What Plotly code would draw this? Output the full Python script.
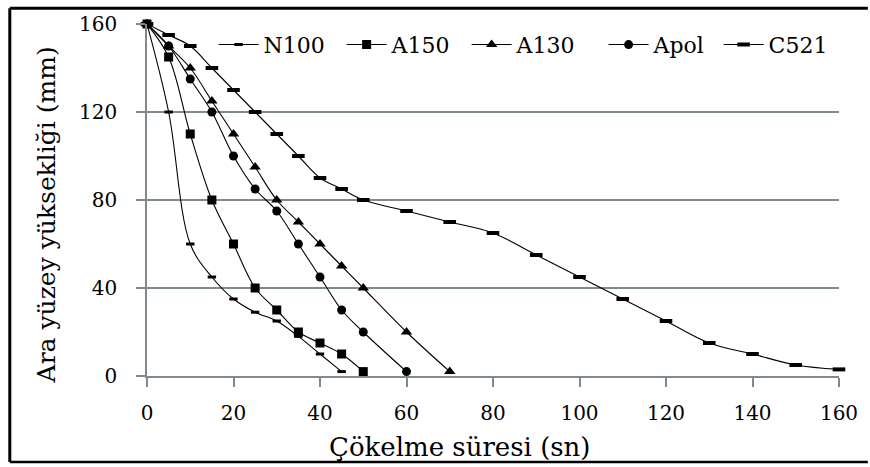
import plotly.graph_objects as go

# Settling time (s) and interface height (mm) for each sample
t_n100 = [0, 5, 10, 15, 20, 25, 30, 35, 40, 45]
h_n100 = [160, 120, 60, 45, 35, 29, 25, 18, 10, 2]

t_a150 = [0, 5, 10, 15, 20, 25, 30, 35, 40, 45, 50]
h_a150 = [160, 145, 110, 80, 60, 40, 30, 20, 15, 10, 2]

t_a130 = [0, 5, 10, 15, 20, 25, 30, 35, 40, 45, 50, 60, 70]
h_a130 = [160, 150, 140, 125, 110, 95, 80, 70, 60, 50, 40, 20, 2]

t_apol = [0, 5, 10, 15, 20, 25, 30, 35, 40, 45, 50, 60]
h_apol = [160, 150, 135, 120, 100, 85, 75, 60, 45, 30, 20, 2]

t_c521 = [0, 5, 10, 15, 20, 25, 30, 35, 40, 45, 50, 60, 70, 80, 90, 100, 110, 120, 130, 140, 150, 160]
h_c521 = [160, 155, 150, 140, 130, 120, 110, 100, 90, 85, 80, 75, 70, 65, 55, 45, 35, 25, 15, 10, 5, 3]

x_ticks = [0, 20, 40, 60, 80, 100, 120, 140, 160]
y_ticks = [0, 40, 80, 120, 160]

FONT = "DejaVu Serif"
GRID = "#7f8b8b"

series = [
    ("N100", t_n100, h_n100, dict(symbol="line-ew", size=6, line=dict(width=3, color="black")), 73),
    ("A150", t_a150, h_a150, dict(symbol="square", size=9, color="black", line=dict(width=0)), 70),
    ("A130", t_a130, h_a130, dict(symbol="triangle-up", size=10, color="black", line=dict(width=0)), 82),
    ("Apol", t_apol, h_apol, dict(symbol="circle", size=9, color="black", line=dict(width=0)), 60),
    ("C521", t_c521, h_c521, dict(symbol="line-ew", size=9, line=dict(width=4, color="black")), 60),
]

fig = go.Figure()
for name, xs, ys, mk, lw in series:
    fig.add_trace(go.Scatter(
        x=xs, y=ys, name=name, mode="lines+markers",
        line=dict(color="black", width=1.1, shape="spline", smoothing=1.0),
        marker=mk, cliponaxis=False, legendwidth=lw,
    ))

# plot area in pixels: x 147..843, y 20..376
W, H = 870, 467
L, R, T, B = 147, 843, 20, 376


def px(x):
    return (x - L) / (R - L)


def py(y):
    return (B - y) / (B - T)


fig.update_layout(
    width=W, height=H,
    margin=dict(l=L, r=W - R, t=T, b=H - B, pad=0),
    paper_bgcolor="white", plot_bgcolor="white",
    font=dict(family=FONT, color="black", size=20),
    showlegend=True,
    legend=dict(
        orientation="h", x=px(214), y=py(41), xanchor="left", yanchor="middle",
        font=dict(family=FONT, size=22, color="black"),
        bgcolor="rgba(0,0,0,0)", itemwidth=40, tracegroupgap=0,
        entrywidthmode="pixels",
    ),
    xaxis=dict(
        range=[0, 160], tickvals=x_ticks, ticktext=[str(v) for v in x_ticks],
        showgrid=False, zeroline=False,
        showline=True, linecolor=GRID, linewidth=1.5,
        ticks="outside", ticklen=9, tickwidth=1.5, tickcolor=GRID,
        tickfont=dict(family=FONT, size=20, color="black"),
        ticklabelstandoff=9,
    ),
    yaxis=dict(
        range=[0, 160], tickvals=y_ticks, ticktext=[str(v) for v in y_ticks],
        showgrid=True, gridcolor=GRID, gridwidth=1.5, zeroline=False,
        showline=True, linecolor=GRID, linewidth=1.5,
        ticks="outside", ticklen=9, tickwidth=1.5, tickcolor=GRID,
        tickfont=dict(family=FONT, size=20, color="black"),
        ticklabelstandoff=15,
    ),
    annotations=[
        dict(text="Çökelme süresi (sn)", xref="paper", yref="paper",
             x=px(462), y=py(448), xanchor="center", yanchor="middle",
             showarrow=False, font=dict(family=FONT, size=26, color="black")),
        dict(text="Ara yüzey yüksekliği (mm)", xref="paper", yref="paper",
             x=px(46), y=py(213), xanchor="center", yanchor="middle",
             textangle=-90, showarrow=False,
             font=dict(family=FONT, size=25, color="black")),
    ],
    shapes=[
        dict(type="line", xref="paper", yref="paper", x0=px(9), x1=px(872), y0=py(4), y1=py(4),
             line=dict(color="black", width=3)),
        dict(type="line", xref="paper", yref="paper", x0=px(9), x1=px(9), y0=py(4), y1=py(463),
             line=dict(color="black", width=3)),
        dict(type="line", xref="paper", yref="paper", x0=px(9), x1=px(872), y0=py(463), y1=py(463),
             line=dict(color="black", width=2.5)),
    ],
)

fig.write_html("out.html")
